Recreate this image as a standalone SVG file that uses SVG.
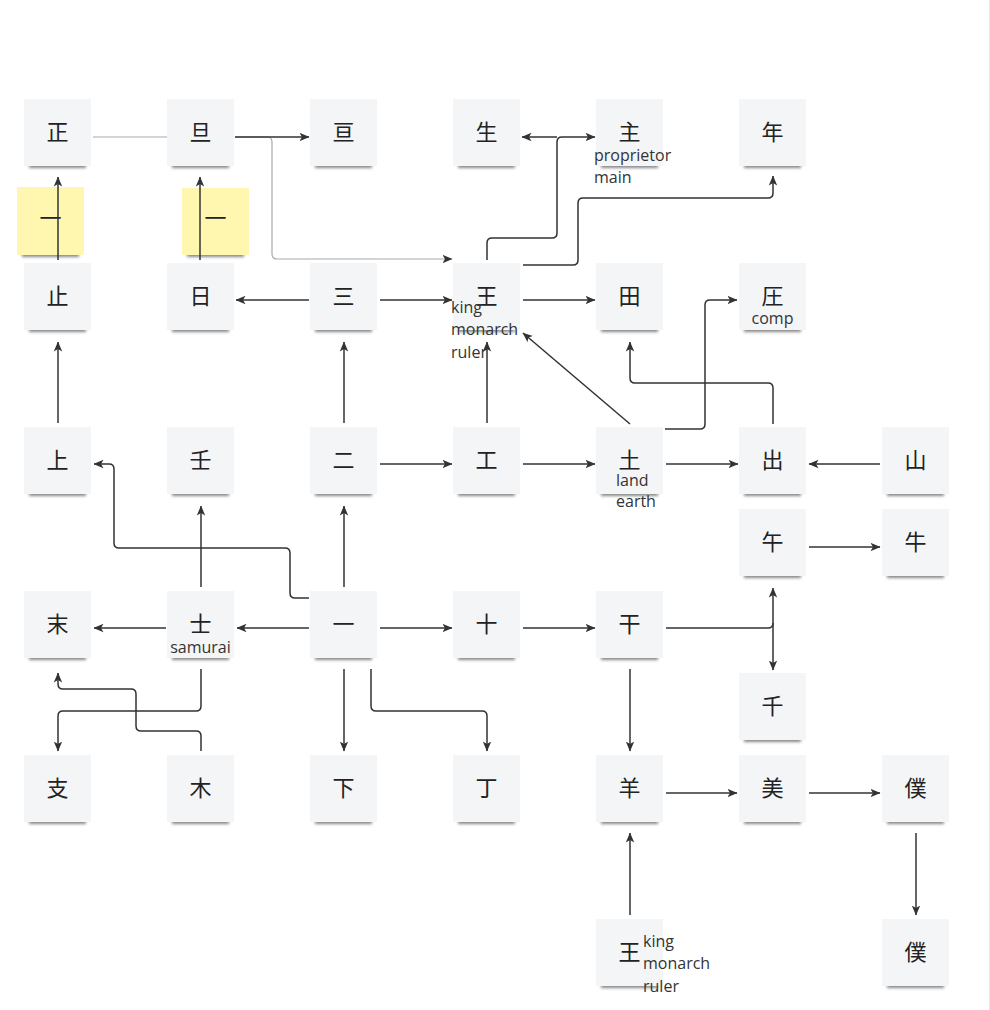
<svg xmlns="http://www.w3.org/2000/svg" width="990" height="1010" viewBox="0 0 990 1010">
<defs>
<filter id="blur" x="-20%" y="-100%" width="140%" height="300%"><feGaussianBlur stdDeviation="1.8"/></filter>
<marker id="ah" viewBox="0 0 10 10" refX="9.5" refY="5" markerWidth="10" markerHeight="10" markerUnits="userSpaceOnUse" orient="auto-start-reverse"><path d="M0,0.8 L10,5 L0,9.2 L2.5,5 z" fill="#333"/></marker>
</defs>
<style>
.sh{fill:#3a3a3a;opacity:.6;filter:url(#blur)}
.nb{fill:#f4f5f7}
.yb{fill:#fff6b0}
.ch{font-family:"Noto Sans CJK JP","Noto Sans CJK SC",sans-serif;font-size:22px;fill:#222;text-anchor:middle;dominant-baseline:central}
.lb{font-family:"Open Sans","Liberation Sans",sans-serif;font-size:16px;fill:#333}
.c{fill:none;stroke:#333;stroke-width:1.5;marker-end:url(#ah)}
.cg{fill:none;stroke:#a9a9a9;stroke-width:1.2;marker-end:url(#ah)}
</style>
<rect width="990" height="1010" fill="#fff"/>
<line x1="989.5" y1="0" x2="989.5" y2="1010" stroke="#e8e8e8" stroke-width="1"/>
<g id="nodes">
<g id="n1"><rect class="sh" x="29" y="162" width="57" height="6"/><rect class="nb" x="24" y="99" width="67" height="67"/><text class="ch" x="57.5" y="129.5">正</text></g>
<g id="n2"><rect class="sh" x="172" y="162" width="57" height="6"/><rect class="nb" x="167" y="99" width="67" height="67"/><text class="ch" x="200.5" y="129.5">旦</text></g>
<g id="n3"><rect class="sh" x="315" y="162" width="57" height="6"/><rect class="nb" x="310" y="99" width="67" height="67"/><text class="ch" x="343.5" y="129.5">亘</text></g>
<g id="n4"><rect class="sh" x="458" y="162" width="57" height="6"/><rect class="nb" x="453" y="99" width="67" height="67"/><text class="ch" x="486.5" y="129.5">生</text></g>
<g id="n5"><rect class="sh" x="601" y="162" width="57" height="6"/><rect class="nb" x="596" y="99" width="67" height="67"/><text class="ch" x="629.5" y="129.5">主</text><text class="lb" x="594" y="161">proprietor</text><text class="lb" x="594" y="183">main</text></g>
<g id="n6"><rect class="sh" x="744" y="162" width="57" height="6"/><rect class="nb" x="739" y="99" width="67" height="67"/><text class="ch" x="772.5" y="129.5">年</text></g>
<g id="n7"><rect class="sh" x="29" y="326" width="57" height="6"/><rect class="nb" x="24" y="263" width="67" height="67"/><text class="ch" x="57.5" y="293.5">止</text></g>
<g id="n8"><rect class="sh" x="172" y="326" width="57" height="6"/><rect class="nb" x="167" y="263" width="67" height="67"/><text class="ch" x="200.5" y="293.5">日</text></g>
<g id="n9"><rect class="sh" x="315" y="326" width="57" height="6"/><rect class="nb" x="310" y="263" width="67" height="67"/><text class="ch" x="343.5" y="293.5">三</text></g>
<g id="n10"><rect class="sh" x="458" y="326" width="57" height="6"/><rect class="nb" x="453" y="263" width="67" height="67"/><text class="ch" x="486.5" y="293.5">王</text><text class="lb" x="451" y="313">king</text><text class="lb" x="451" y="335">monarch</text><text class="lb" x="451" y="358">ruler</text></g>
<g id="n11"><rect class="sh" x="601" y="326" width="57" height="6"/><rect class="nb" x="596" y="263" width="67" height="67"/><text class="ch" x="629.5" y="293.5">田</text></g>
<g id="n12"><rect class="sh" x="744" y="326" width="57" height="6"/><rect class="nb" x="739" y="263" width="67" height="67"/><text class="ch" x="772.5" y="293.5">圧</text><text class="lb" x="772.5" y="324" text-anchor="middle">comp</text></g>
<g id="n13"><rect class="sh" x="29" y="490" width="57" height="6"/><rect class="nb" x="24" y="427" width="67" height="67"/><text class="ch" x="57.5" y="457.5">上</text></g>
<g id="n14"><rect class="sh" x="172" y="490" width="57" height="6"/><rect class="nb" x="167" y="427" width="67" height="67"/><text class="ch" x="200.5" y="457.5">壬</text></g>
<g id="n15"><rect class="sh" x="315" y="490" width="57" height="6"/><rect class="nb" x="310" y="427" width="67" height="67"/><text class="ch" x="343.5" y="457.5">二</text></g>
<g id="n16"><rect class="sh" x="458" y="490" width="57" height="6"/><rect class="nb" x="453" y="427" width="67" height="67"/><text class="ch" x="486.5" y="457.5">工</text></g>
<g id="n17"><rect class="sh" x="601" y="490" width="57" height="6"/><rect class="nb" x="596" y="427" width="67" height="67"/><text class="ch" x="629.5" y="457.5">土</text><text class="lb" x="616" y="486">land</text><text class="lb" x="616" y="507">earth</text></g>
<g id="n18"><rect class="sh" x="744" y="490" width="57" height="6"/><rect class="nb" x="739" y="427" width="67" height="67"/><text class="ch" x="772.5" y="457.5">出</text></g>
<g id="n19"><rect class="sh" x="887" y="490" width="57" height="6"/><rect class="nb" x="882" y="427" width="67" height="67"/><text class="ch" x="915.5" y="457.5">山</text></g>
<g id="n20"><rect class="sh" x="744" y="572" width="57" height="6"/><rect class="nb" x="739" y="509" width="67" height="67"/><text class="ch" x="772.5" y="539.5">午</text></g>
<g id="n21"><rect class="sh" x="887" y="572" width="57" height="6"/><rect class="nb" x="882" y="509" width="67" height="67"/><text class="ch" x="915.5" y="539.5">牛</text></g>
<g id="n22"><rect class="sh" x="29" y="654" width="57" height="6"/><rect class="nb" x="24" y="591" width="67" height="67"/><text class="ch" x="57.5" y="621.5">末</text></g>
<g id="n23"><rect class="sh" x="172" y="654" width="57" height="6"/><rect class="nb" x="167" y="591" width="67" height="67"/><text class="ch" x="200.5" y="621.5">士</text><text class="lb" x="200.5" y="653" text-anchor="middle">samurai</text></g>
<g id="n24"><rect class="sh" x="315" y="654" width="57" height="6"/><rect class="nb" x="310" y="591" width="67" height="67"/><text class="ch" x="343.5" y="621.5">一</text></g>
<g id="n25"><rect class="sh" x="458" y="654" width="57" height="6"/><rect class="nb" x="453" y="591" width="67" height="67"/><text class="ch" x="486.5" y="621.5">十</text></g>
<g id="n26"><rect class="sh" x="601" y="654" width="57" height="6"/><rect class="nb" x="596" y="591" width="67" height="67"/><text class="ch" x="629.5" y="621.5">干</text></g>
<g id="n27"><rect class="sh" x="744" y="736" width="57" height="6"/><rect class="nb" x="739" y="673" width="67" height="67"/><text class="ch" x="772.5" y="703.5">千</text></g>
<g id="n28"><rect class="sh" x="29" y="818" width="57" height="6"/><rect class="nb" x="24" y="755" width="67" height="67"/><text class="ch" x="57.5" y="785.5">支</text></g>
<g id="n29"><rect class="sh" x="172" y="818" width="57" height="6"/><rect class="nb" x="167" y="755" width="67" height="67"/><text class="ch" x="200.5" y="785.5">木</text></g>
<g id="n30"><rect class="sh" x="315" y="818" width="57" height="6"/><rect class="nb" x="310" y="755" width="67" height="67"/><text class="ch" x="343.5" y="785.5">下</text></g>
<g id="n31"><rect class="sh" x="458" y="818" width="57" height="6"/><rect class="nb" x="453" y="755" width="67" height="67"/><text class="ch" x="486.5" y="785.5">丁</text></g>
<g id="n32"><rect class="sh" x="601" y="818" width="57" height="6"/><rect class="nb" x="596" y="755" width="67" height="67"/><text class="ch" x="629.5" y="785.5">羊</text></g>
<g id="n33"><rect class="sh" x="744" y="818" width="57" height="6"/><rect class="nb" x="739" y="755" width="67" height="67"/><text class="ch" x="772.5" y="785.5">美</text></g>
<g id="n34"><rect class="sh" x="887" y="818" width="57" height="6"/><rect class="nb" x="882" y="755" width="67" height="67"/><text class="ch" x="915.5" y="785.5">僕</text></g>
<g id="n35"><rect class="sh" x="601" y="982" width="57" height="6"/><rect class="nb" x="596" y="919" width="67" height="67"/><text class="ch" x="629.5" y="949.5">王</text><text class="lb" x="643" y="947">king</text><text class="lb" x="643" y="969">monarch</text><text class="lb" x="643" y="992">ruler</text></g>
<g id="n36"><rect class="sh" x="887" y="982" width="57" height="6"/><rect class="nb" x="882" y="919" width="67" height="67"/><text class="ch" x="915.5" y="949.5">僕</text></g>
<g id="y1"><rect class="sh" x="22" y="251" width="57" height="6"/><rect class="yb" x="17" y="187" width="67" height="68"/><text class="ch" x="50.5" y="216">一</text></g>
<g id="y2"><rect class="sh" x="187" y="251" width="57" height="6"/><rect class="yb" x="182" y="188" width="67" height="67"/><text class="ch" x="215.5" y="216">一</text></g>
</g>
<g id="connectors">
<path class="cg" d="M93,137 H167 M235,137 H267 q5,0 5,5 V254 q0,5 5,5 H452"/>
<path class="c" d="M235,137 H309"/>
<path class="c" d="M58,260 V177"/>
<path class="c" d="M200,260 V177"/>
<path class="c" d="M557,137 H522"/>
<path class="c" d="M487,260 V243 q0,-5 5,-5 H552 q5,0 5,-5 V142 q0,-5 5,-5 H595"/>
<path class="c" d="M523,265 H573 q5,0 5,-5 V203 q0,-5 5,-5 H768 q5,0 5,-5 V176"/>
<path class="c" d="M523,300 H595"/>
<path class="c" d="M380,300 H452"/>
<path class="c" d="M309,300 H236"/>
<path class="c" d="M630,424 L523,333"/>
<path class="c" d="M665,429 H700 q5,0 5,-5 V305 q0,-5 5,-5 H737"/>
<path class="c" d="M773,424 V388 q0,-5 -5,-5 H635 q-5,0 -5,-5 V342"/>
<path class="c" d="M487,423 V342"/>
<path class="c" d="M344,423 V342"/>
<path class="c" d="M58,423 V342"/>
<path class="c" d="M380,464 H452"/>
<path class="c" d="M523,464 H595"/>
<path class="c" d="M666,464 H738"/>
<path class="c" d="M880,464 H809"/>
<path class="c" d="M344,587 V506"/>
<path class="c" d="M201,587 V506"/>
<path class="c" d="M309,598 H295 q-5,0 -5,-5 V553 q0,-5 -5,-5 H119 q-5,0 -5,-5 V469 q0,-5 -5,-5 H94"/>
<path class="c" d="M809,547 H880"/>
<path class="c" d="M309,628 H237"/>
<path class="c" d="M166,628 H94"/>
<path class="c" d="M380,628 H452"/>
<path class="c" d="M523,628 H595"/>
<path class="c" d="M666,628 H768 q5,0 5,-5 V588"/>
<path class="c" d="M773,623 V670"/>
<path class="c" d="M201,669 V706 q0,5 -5,5 H63 q-5,0 -5,5 V751"/>
<path class="c" d="M201,751 V736 q0,-5 -5,-5 H141 q-5,0 -5,-5 V694 q0,-5 -5,-5 H63 q-5,0 -5,-5 V673"/>
<path class="c" d="M344,669 V751"/>
<path class="c" d="M371,669 V706 q0,5 5,5 H482 q5,0 5,5 V751"/>
<path class="c" d="M630,669 V751"/>
<path class="c" d="M666,793 H737"/>
<path class="c" d="M809,793 H880"/>
<path class="c" d="M630,915 V833"/>
<path class="c" d="M916,833 V915"/>
</g>
</svg>
